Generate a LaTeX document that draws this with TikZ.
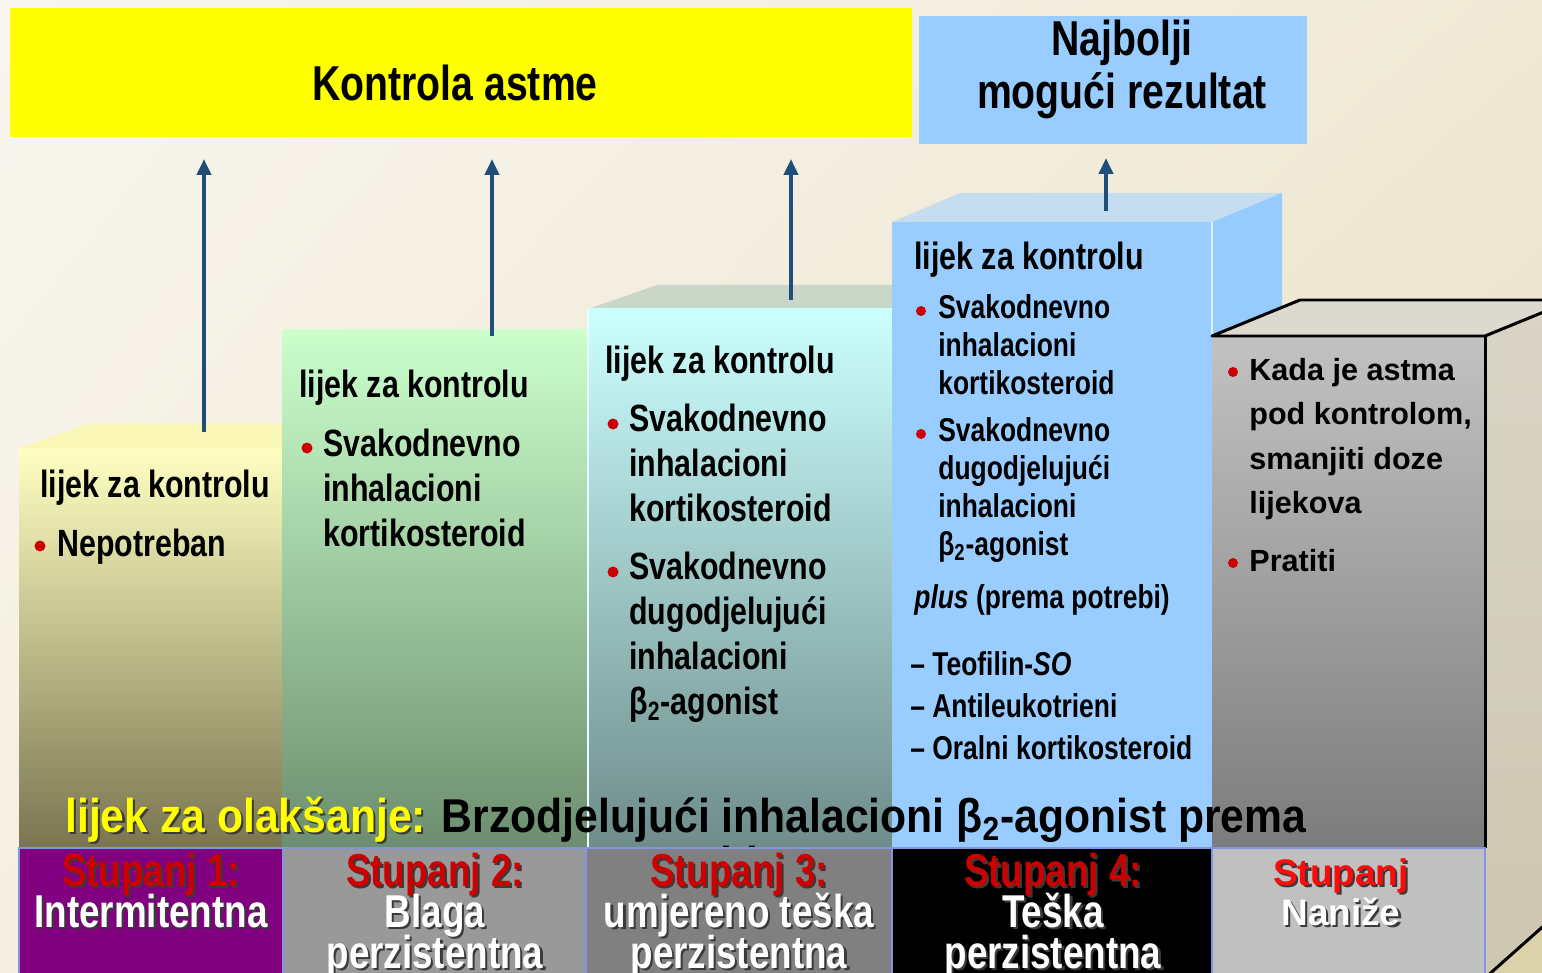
\documentclass[tikz,border=0pt]{standalone}
\usepackage{fontspec}
\setmainfont{Liberation Sans}
\newfontfamily\narrowfont{Liberation Sans}[FakeStretch=0.8]
\newfontfamily\midfont{Liberation Sans}[FakeStretch=0.9]
\usetikzlibrary{arrows.meta,shadings}

\definecolor{bgA}{HTML}{F8F6EF}
\definecolor{bgB}{HTML}{F0E9D6}
\definecolor{bgC}{HTML}{F4EFE0}
\definecolor{bgD}{HTML}{E8DFC4}
\definecolor{ctrlyellow}{HTML}{FFFF00}
\definecolor{bestblue}{HTML}{99CCFF}
\definecolor{arrowblue}{HTML}{1F4E79}
\definecolor{bulred}{HTML}{CC0000}
\definecolor{stepred}{HTML}{CC0000}
\definecolor{stepredb}{HTML}{FF0A0A}
\definecolor{shadowc}{HTML}{3A3A3A}
\definecolor{c1top}{HTML}{FAF7B6}
\definecolor{c1a}{HTML}{FFFFC2}
\definecolor{c1b}{HTML}{D9D49B}
\definecolor{c1c}{HTML}{7A7550}
\definecolor{c2a}{HTML}{CCFFCC}
\definecolor{c2b}{HTML}{A6CFA9}
\definecolor{c2c}{HTML}{6C8E6F}
\definecolor{c3top}{HTML}{C9D6C8}
\definecolor{c3a}{HTML}{CCFFFF}
\definecolor{c3b}{HTML}{A7CDCD}
\definecolor{c3c}{HTML}{6E8C8A}
\definecolor{c4top}{HTML}{C6DDF0}
\definecolor{c4side}{HTML}{96CBFD}
\definecolor{c5top}{HTML}{DCD9CF}
\definecolor{c5a}{HTML}{C2C2C2}
\definecolor{c5b}{HTML}{7C7C7C}
\definecolor{c5sa}{HTML}{D9D4C6}
\definecolor{c5sb}{HTML}{CEC6B1}
\definecolor{floor}{HTML}{DCD2A9}
\definecolor{step1}{HTML}{800080}
\definecolor{step2}{HTML}{999999}
\definecolor{step3}{HTML}{808080}
\definecolor{step4}{HTML}{000000}
\definecolor{step5}{HTML}{C0C0C0}
\definecolor{panelline}{HTML}{8494E2}

\newcommand{\shd}[2]{\leavevmode\rlap{\kern1.2pt\raisebox{-1.2pt}{\color{shadowc}#2}}{\color{#1}#2}}
\newcommand{\btwo}{β\textsubscript{2}}
\newcommand{\tightlines}{\setlength{\lineskiplimit}{-100pt}}

\tikzset{
  ttl/.style={font=\narrowfont\bfseries\fontsize{27.9}{30.2}\selectfont, align=center, inner sep=0pt},
  hdr/.style={font=\narrowfont\bfseries\fontsize{21.6}{25.6}\selectfont, anchor=base west, inner sep=0pt},
  lst/.style={hdr, anchor=north west, align=left},
  smallhdr/.style={hdr, font=\narrowfont\bfseries\fontsize{18.8}{21.6}\selectfont},
  smalllst/.style={lst, font=\narrowfont\bfseries\fontsize{18.8}{21.6}\selectfont},
  dashlst/.style={lst, font=\narrowfont\bfseries\fontsize{18.8}{23.9}\selectfont},
  widehdr/.style={hdr, font=\bfseries\fontsize{17.4}{25.3}\selectfont},
  widelst/.style={lst, font=\bfseries\fontsize{17.4}{25.3}\selectfont},
  relief/.style={font=\midfont\bfseries\fontsize{27}{27}\selectfont, align=center, anchor=north west, inner sep=0pt},
  steptxt/.style={font=\narrowfont\bfseries\fontsize{26.2}{23.3}\selectfont\tightlines, align=center, anchor=north, inner sep=0pt},
  cell/.style={draw=panelline, line width=0.04cm},
  edge/.style={draw=black, line width=0.06cm, line join=round},
  bul/.style={fill=bulred},
  arr/.style={draw=arrowblue, line width=0.08cm, -{Triangle[length=0.32cm,width=0.28cm]}}
}

\begin{document}
\begin{tikzpicture}[x=0.02cm,y=-0.02cm]
\useasboundingbox (0,0) rectangle (1542,973);
\shade[upper left=bgA, upper right=bgB, lower left=bgC, lower right=bgD] (0,0) rectangle (1542,973);

% goals
\fill[ctrlyellow] (10,8) rectangle (912,137) coordinate (ctrlb);
\node[ttl] (ctrl) at (455,83) {Kontrola astme};
\fill[bestblue] (919,16) rectangle (1307,144) coordinate (bestb);
\node[ttl] (best) at (1122,69) {Najbolji\\mogući rezultat};

% steps
\fill[c1top] (19,448) -- (88,424) -- (282,424) -- (282,448) -- cycle;
\shade[top color=c1a, middle color=c1b, bottom color=c1c] (19,448) rectangle (282,848);
\shade[top color=c2a, middle color=c2b, bottom color=c2c] (282,329) rectangle (588,848);
\fill[c3top] (588,309) -- (657,285) -- (892,285) -- (892,309) -- cycle;
\shade[top color=c3a, middle color=c3b, bottom color=c3c] (588,309) rectangle (892,848);
\draw[white!60!c3a, line width=0.03cm] (588,309) -- (588,848);
\fill[c4top] (892,222) -- (960,193) -- (1282,193) -- (1212,222) -- cycle;
\fill[c4side] (1212,222) -- (1282,193) -- (1282,336) -- (1212,336) -- cycle;
\fill[bestblue] (892,222) rectangle (1212,848);
\draw[white!70!bestblue, line width=0.03cm] (1212,222) -- (1212,336);

\fill[c5top] (1212,336) -- (1300,300) -- (1573,300) -- (1485,336) -- cycle;
\shade[top color=c5sa, bottom color=c5sb] (1485,336) -- (1573,300) -- (1573,980) -- (1485,980) -- cycle;
\fill[floor] (1485,978) -- (1548,922) -- (1548,980) -- cycle;
\shade[top color=c5a, bottom color=c5b] (1212,336) rectangle (1485,848);
\draw[edge] (1573,300) -- (1300,300) -- (1212,336) -- (1485,336) -- (1573,300);
\draw[edge] (1485,336) -- (1485,848);
\draw[edge] (1485,978) -- (1548,922);

% controllers
\node[hdr] (c1h) at (40,497) {lijek za kontrolu};
\node[hdr] (c1a) at (57,556) {Nepotreban};
\fill[bul] (40,546) circle (0.11cm);

\node[hdr] (c2h) at (299,398) {lijek za kontrolu};
\node[lst] (c2a) at (323,429) {Svakodnevno\\inhalacioni\\kortikosteroid};
\fill[bul] (307,448) circle (0.11cm);

\node[hdr] (c3h) at (605,373) {lijek za kontrolu};
\node[lst] (c3a) at (629,404) {Svakodnevno\\inhalacioni\\kortikosteroid};
\node[lst] (c3b) at (629,552) {Svakodnevno\\dugodjelujući\\inhalacioni\\\btwo-agonist};
\fill[bul] (613,424) circle (0.11cm);
\fill[bul] (613,572) circle (0.11cm);

\node[hdr] (c4h) at (914,270) {lijek za kontrolu};
\node[smalllst] (c4a) at (938,294) {Svakodnevno\\inhalacioni\\kortikosteroid};
\node[smalllst] (c4b) at (938,417) {Svakodnevno\\dugodjelujući\\inhalacioni\\\btwo-agonist};
\node[smallhdr] (c4p) at (914,608) {\textit{plus} (prema potrebi)};
\node[dashlst] (c4c) at (910,651) {– Teofilin-\textit{SO}\\– Antileukotrieni\\– Oralni kortikosteroid};
\fill[bul] (921,311) circle (0.1cm);
\fill[bul] (921,434) circle (0.1cm);

\node[widelst] (c5a) at (1249,358) {Kada je astma\\pod kontrolom,\\smanjiti doze\\lijekova};
\node[widehdr] (c5b) at (1249,571) {Pratiti};
\fill[bul] (1233,372) circle (0.1cm);
\fill[bul] (1233,563) circle (0.1cm);

% arrows
\coordinate (foot1) at (204,432);
\coordinate (foot2) at (492,336);
\coordinate (foot3) at (791,300);
\coordinate (foot4) at (1106,211);
\foreach \n in {1,2,3}
  \draw[arr, shorten >=0.44cm] (foot\n) -- (foot\n |- ctrlb);
\draw[arr, shorten >=0.28cm] (foot4) -- (foot4 |- bestb);

% reliever
\node[relief] (rel) at (65,797) {\shd{ctrlyellow}{lijek za olakšanje:} Brzodjelujući inhalacioni \btwo-agonist prema\\potrebi};

% severity
\filldraw[cell, fill=step1] (19,848) rectangle (283,980);
\filldraw[cell, fill=step2] (283,848) rectangle (586,980);
\filldraw[cell, fill=step3] (586,848) rectangle (892,980);
\filldraw[cell, fill=step4] (892,848) rectangle (1212,980);
\filldraw[cell, fill=step5] (1212,848) rectangle (1485,980);
\node[steptxt] (s1) at (151,853) {\shd{stepred}{Stupanj 1:}\\\shd{white}{Intermitentna}};
\node[steptxt] (s2) at (435,853) {\shd{stepred}{Stupanj 2:}\\\shd{white}{Blaga}\\\shd{white}{perzistentna}};
\node[steptxt] (s3) at (739,853) {\shd{stepred}{Stupanj 3:}\\\shd{white}{umjereno teška}\\\shd{white}{perzistentna}};
\node[steptxt] (s4) at (1053,853) {\shd{stepred}{Stupanj 4:}\\\shd{white}{Teška}\\\shd{white}{perzistentna}};
\node[steptxt, font=\bfseries\fontsize{21}{22.8}\selectfont\tightlines] (s5) at (1341,858) {\shd{stepredb}{Stupanj}\\\shd{white}{Naniže}};
\end{tikzpicture}
\end{document}
